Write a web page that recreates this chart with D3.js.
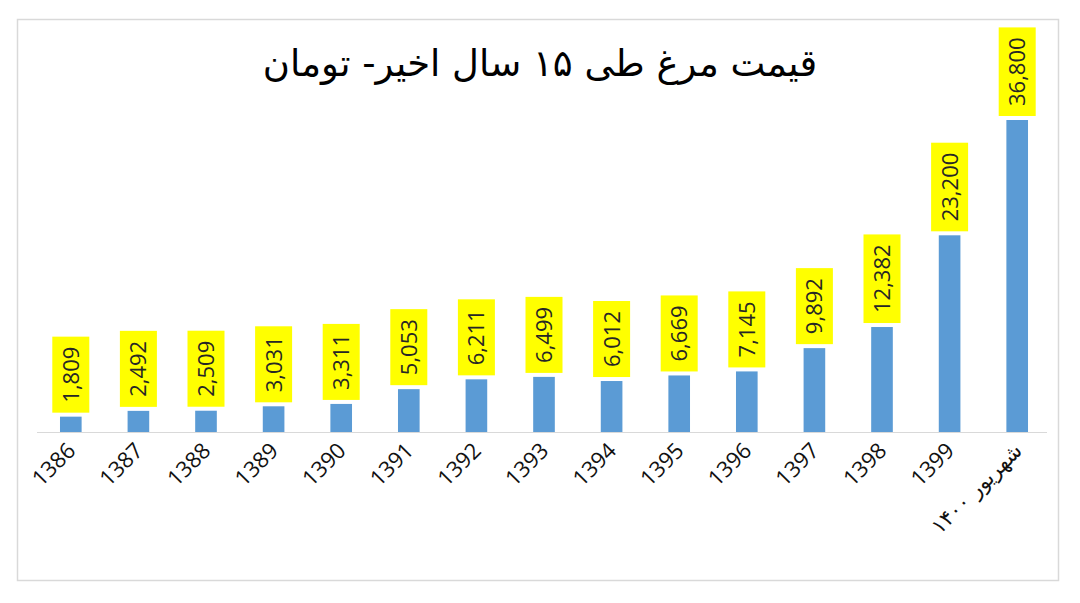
<!DOCTYPE html>
<html><head><meta charset="utf-8">
<script src="https://cdn.jsdelivr.net/npm/d3@7"></script>
<style>body{margin:0;background:#fff}svg{display:block}</style>
</head><body>
<script>
const categories = ["1386","1387","1388","1389","1390","1391","1392","1393","1394","1395","1396","1397","1398","1399","شهریور ۱۴۰۰"];
const values = [1809,2492,2509,3031,3311,5053,6211,6499,6012,6669,7145,9892,12382,23200,36800];
const title = "قیمت مرغ طی ۱۵ سال اخیر- تومان";

const W = 1080, H = 603;
const svg = d3.select("body").append("svg").attr("width", W).attr("height", H);

svg.append("rect").attr("x",17.5).attr("y",19.5).attr("width",1041).attr("height",561)
  .attr("fill","#fff").attr("stroke","#d9d9d9").attr("stroke-width",1.5);

svg.append("text").attr("x",540).attr("y",76).attr("text-anchor","middle")
  .attr("font-family","DejaVu Sans, Noto Sans, sans-serif").attr("font-size",37).attr("fill","#000")
  .attr("direction","rtl").text(title);

const x = d3.scaleBand().domain(categories).range([37, 1051]).paddingInner(0.68).paddingOuter(0.34);
const y = d3.scaleLinear().domain([0, 36800]).range([432, 120]);

svg.append("line").attr("x1",37).attr("x2",1047).attr("y1",432.5).attr("y2",432.5)
  .attr("stroke","#d9d9d9").attr("stroke-width",1.2);

svg.selectAll("rect.bar").data(values).join("rect").attr("class","bar")
  .attr("x",(d,i)=>x(categories[i])).attr("width",x.bandwidth())
  .attr("y",d=>y(d)).attr("height",d=>y(0)-y(d)).attr("fill","#5B9BD5");

const fmt = d3.format(",");
const lab = svg.selectAll("g.lab").data(values).join("g").attr("class","lab")
  .attr("transform",(d,i)=>`translate(${x(categories[i])+x.bandwidth()/2},${y(d)-4}) rotate(-90)`);
lab.each(function(d){
  const g = d3.select(this);
  const r = g.append("rect").attr("fill","#FFFF00");
  const t = g.append("text").attr("x",10).attr("y",0).attr("dy","0.36em")
    .attr("font-family","Open Sans, sans-serif").attr("font-size",22).attr("fill","#262626").text(fmt(d));
  const bb = t.node().getBBox();
  r.attr("x",0).attr("y",-18.5).attr("width",bb.width+20).attr("height",37);
});

svg.selectAll("text.xl").data(categories).join("text").attr("class","xl")
  .attr("transform",(d,i)=>`translate(${x(d)+x.bandwidth()/2+6},${452}) rotate(-45)`)
  .attr("text-anchor","end")
  .attr("font-family",(d,i)=> i===14 ? "DejaVu Sans, sans-serif" : "Open Sans, sans-serif")
  .attr("font-size",(d,i)=> i===14 ? 21 : 22).attr("fill","#111").text(d=>d);
</script>
</body></html>
